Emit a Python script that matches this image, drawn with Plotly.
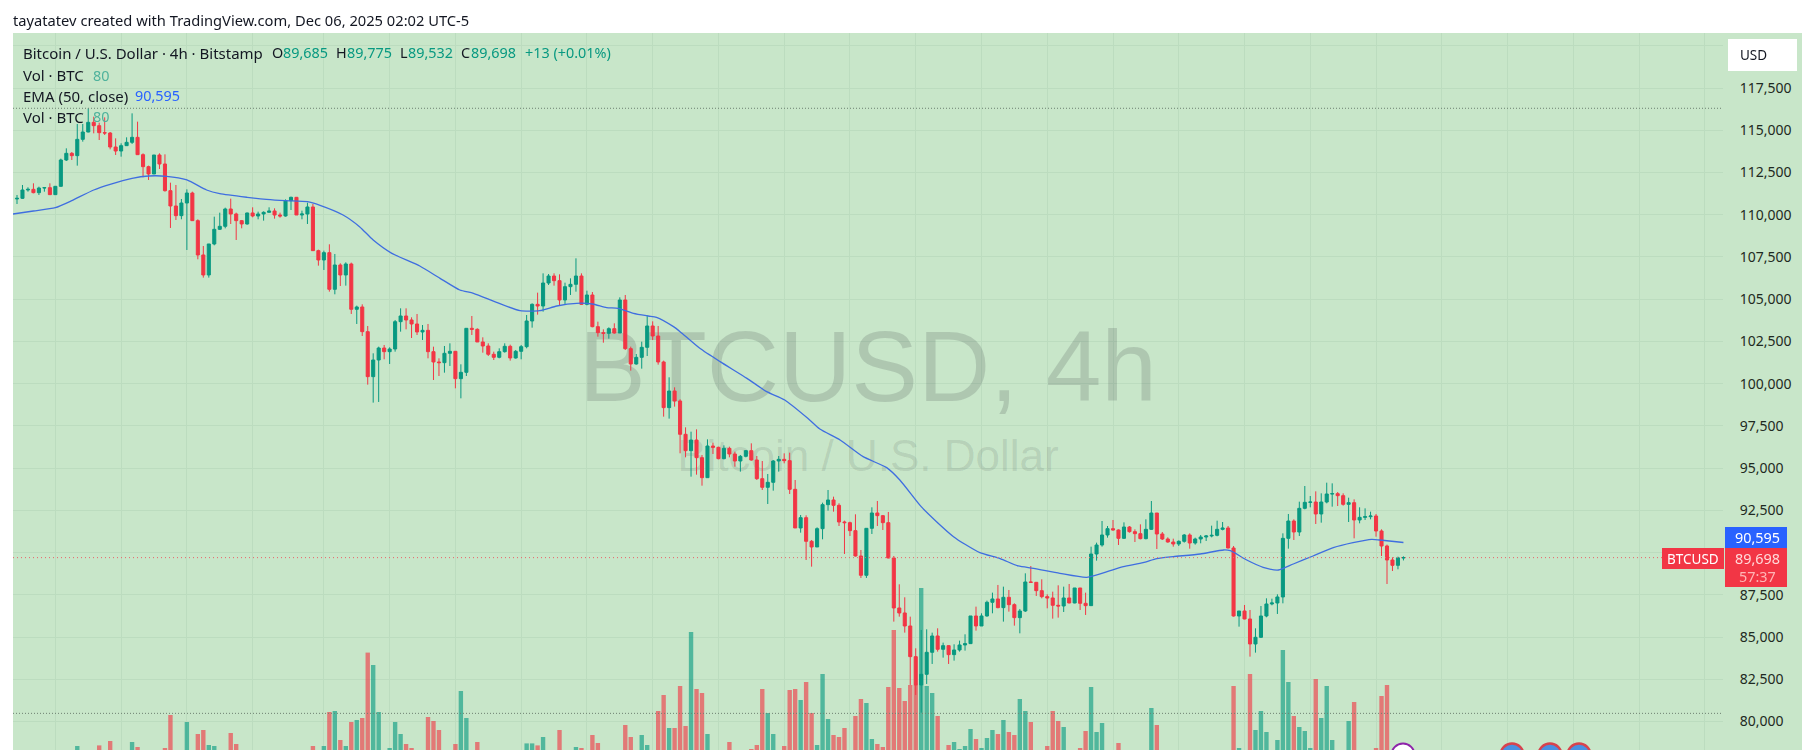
import plotly.graph_objects as go

FIRST_OPEN = 110930
CLOSE = [
110970,111463,111502,111305,111581,111601,111187,111680,113239,113633,
113495,114462,114896,115468,115271,114856,114837,114008,113771,114087,
114284,114580,113554,112844,112410,113535,113002,111423,110516,109944,
110693,111285,109648,107616,106432,108267,109135,109312,110338,110042,
109648,109450,110102,109924,110042,110141,110220,109983,109924,110832,
111029,109983,110042,110457,107872,107320,107754,105583,107024,106432,
107083,104400,104538,103076,100413,101399,102109,101892,102050,103668,
104004,103767,103530,103057,103155,101892,101281,101241,101794,101912,
100294,100669,103274,103214,102465,102228,101735,101557,101892,102208,
101518,101912,102188,103708,104694,104595,105957,106371,106095,104951,
105740,105878,106371,104694,105247,103372,103017,102978,103254,102997,
104951,102070,101162,101557,102149,103412,102820,101281,98578,99564,
98972,96999,96031,96662,95617,94433,96307,96228,95558,96169,
95834,95419,95696,96031,95479,94374,93861,94157,95419,95518,
95439,93742,91454,92065,90664,90329,91414,92835,93111,92795,
91809,91769,91296,89796,88652,91434,92342,92184,91769,89678,
86718,86423,85653,83838,82161,82792,84094,85061,84272,84489,
83956,84232,84528,84607,86245,85653,86245,87054,87251,86738,
87350,86915,86146,86540,88257,88237,87744,87389,87310,86876,
86836,87310,87014,87902,86994,86856,89914,90447,91039,91414,
91335,90841,91512,91236,91118,90822,91374,92341,91098,90802,
90624,90506,90664,91039,90565,90802,90920,90980,91019,91374,
91453,90269,86244,86540,86067,84587,84982,86244,86955,87014,
87369,90841,91867,91216,92617,92972,92990,92282,92992,93466,
93485,93367,92854,92953,91927,92084,92124,92163,91276,90388,
89559,89243,89685,89698]
HIGH = [
111167,111759,111621,111858,111660,111621,111858,111700,113318,113929,
113712,115369,115369,116297,115803,115448,115764,114896,114521,114225,
114580,116001,115508,113633,112903,113535,113633,113574,111897,111759,
110930,111502,111364,109727,108148,108267,109884,110121,110417,110950,
110121,109687,110121,110437,110180,110200,110437,110378,110121,110910,
111068,111049,110240,110713,110634,107931,107872,108247,107675,107122,
107181,107162,104617,104694,103412,101794,102188,102287,102149,103767,
104457,104457,103925,104122,103471,103530,102188,101498,102228,102386,
101932,101143,103274,104004,103274,102741,102386,101892,102090,102386,
102307,101991,102287,104063,104753,105385,106529,106490,106529,106470,
105977,106233,107417,106529,105503,105424,103668,103214,103333,103570,
105108,105247,102188,101754,102484,104043,103688,103412,101360,100373,
99781,99071,97412,97156,97294,95775,96702,96505,96268,96347,
96268,95972,95775,96070,96465,95715,95419,94650,95479,95715,
95873,95913,94295,92223,92203,90743,91493,92953,93703,93308,
92914,91888,91829,92263,90151,91434,92677,93052,92223,92401,
89796,88119,87350,86205,84331,85416,85456,85258,85515,84667,
84510,84568,84785,85160,86245,86797,86403,87153,87626,88080,
87981,87783,86994,86659,88770,89204,88257,88415,87527,87685,
88060,87981,88138,87902,87902,87625,90348,90585,91867,91571,
91927,91374,91788,91571,91374,91670,91966,93051,92341,91216,
90901,90822,90723,91098,91137,90881,91039,91039,91591,91887,
91808,91571,90388,86540,86895,86599,85514,86836,87290,87270,
87527,91137,92282,91966,93012,93939,93347,93623,93505,94136,
94097,93584,93505,93248,93150,92676,92617,92420,92282,91374,
90467,89717,89756,89775]
LOW = [
110634,110930,111364,111266,111167,111364,111167,111167,111660,113179,
113239,112903,114324,114876,114817,114422,114718,113870,113535,113436,
114067,114186,113535,112213,112055,112410,112706,111364,109214,109687,
109727,107912,109628,107359,106274,106274,108188,109095,109194,109450,
108503,109194,109411,109845,109727,109648,110121,109766,109825,109885,
110279,109983,109727,109450,107852,106984,106728,105445,105287,105781,
105800,104123,103531,102820,99939,98874,98913,101439,101162,101892,
103076,103214,102701,102879,102583,101498,100215,100452,100649,101044,
99722,99130,100452,102879,102465,101833,101636,101399,101498,101833,
101360,101478,101439,102090,103313,104082,104260,105838,105799,104615,
104714,105247,105444,104655,104635,103333,102780,102425,102662,102958,
103057,101991,100768,101123,100886,101636,102583,101123,98045,97927,
98637,95875,95636,94492,94610,93959,94413,95834,95518,95518,
95636,95084,94788,95636,95439,94295,93703,92874,93663,94788,
95281,93466,91454,91177,89560,89165,90822,90783,92480,92420,
91572,89915,90980,89757,88494,88494,91099,91572,91335,89658,
85910,86205,85258,82161,81569,80523,82220,83404,84134,83779,
83404,83601,84134,84193,84588,85377,85653,86205,86403,86699,
85910,86501,85672,85218,86481,88217,87428,87290,86698,86087,
86146,86481,86994,86994,86599,86304,86856,89520,90348,90881,
91295,90447,90802,91177,90624,90782,90782,91335,90210,90743,
90585,90348,90388,90585,90230,90467,90546,90684,90901,90960,
91315,90249,86205,85613,86047,83837,84074,84942,86166,86876,
86363,86994,90230,90743,90980,92558,92676,91690,91769,92913,
92716,92755,92775,91808,90841,91729,91927,91966,90940,89796,
88138,88908,89007,89532]

VOL_INDEX = [
11,15,17,21,22,27,28,31,33,34,35,36,39,40,54,56,57,58,59,60,61,62,63,64,65,66,68,69,70,71,72,
75,76,77,80,81,82,84,93,94,95,96,99,102,103,105,106,111,112,114,115,117,118,119,120,121,122,
123,124,125,126,130,134,135,136,137,138,140,141,142,143,144,145,146,147,148,149,150,151,153,
154,155,156,157,158,159,160,161,162,163,164,165,166,167,168,170,171,172,173,174,175,176,177,
178,179,180,181,182,183,184,185,188,189,190,191,194,195,196,197,198,201,207,208,222,223,225,
226,227,228,230,231,232,233,234,235,236,237,238,239,240,243,244,248,249,250]
VOLUME = [
20,23,45,40,15,10,175,140,80,100,25,20,85,30,20,20,190,195,50,20,140,150,160,487,425,190,10,140,80,30,10,
165,145,100,30,295,160,40,33,33,23,65,100,15,10,75,35,125,65,75,25,195,275,110,110,320,120,
590,305,285,80,40,5,25,305,185,80,20,300,305,250,340,185,25,380,155,75,65,110,170,
255,235,55,30,15,315,600,310,245,325,325,810,320,285,170,25,40,5,20,105,55,10,60,
100,80,150,90,75,255,195,140,20,195,145,115,10,95,315,90,135,35,210,125,320,10,380,
100,195,90,50,500,340,170,115,95,10,355,160,320,50,145,240,10,270,325]

EMA_INDEX = [-0.73,3,7,10,14,17,21,24,27.3,31,34.6,37,42,45.5,49,53,55.3,59.5,62.5,65,68.4,73.5,77.2,80.8,
83.3,87.5,91.8,95.4,98.5,102.1,105,107.6,109.7,112.5,115.2,116.7,119.8,121,124.6,128.3,133.2,136.8,140.1,
144.3,146.5,150.2,154.4,158.7,161.1,165,167.8,170.9,173,175.7,179.4,182.7,185.5,190.3,195.2,199.5,201.9,
205.5,208,211,215.9,220.2,221.4,224.4,227.4,230.2,232.9,236.5,240.2,243.8,247.2,248.7,253]
EMA = [110042,110220,110417,110832,111463,111798,112153,112292,112272,112055,111463,111246,111029,110910,
110832,110772,110555,109983,109293,108502,107713,106963,106233,105543,105345,104812,104319,104319,104595,
104753,104714,104497,104457,104161,104004,103925,103372,103076,102089,101300,100313,99524,99030,97945,
97313,96662,95676,95025,94295,92716,91828,90941,90487,89994,89638,89204,89066,88770,88533,88928,89164,
89401,89638,89756,89914,90151,90111,89559,89125,88967,89322,89796,90289,90585,90782,90743,90595]

PRICE_TICKS = list(range(80000, 120001, 2500))
HIDDEN_TICKS = {90000, 120000}
PRICE_LABELS = ["" if p in HIDDEN_TICKS else f"{p:,}" for p in PRICE_TICKS]
TIME_GRID = [7, 19, 31, 43] + list(range(56, 309, 12))
LAST_PRICE, EMA_LAST, HIGH_LINE, LOW_LINE = 89698, 90595, 116300, 80480

W, H = 1814, 750
L, R, T = 13, 1723, 33
GREEN, RED, BLUE = "#089981", "#F23645", "#2962FF"
BG, GRID = "#c8e6c9", "#bcdcbf"
FONT = "Noto Sans"

def fx(px): return (px - L) / (R - L)
def fy(py): return (H - py) / (H - T)
def ix(px): return (px - 17) / 5.48
VOL_PER_PX = 5
def vy(py): return (H - py) * VOL_PER_PX

OPEN = [FIRST_OPEN] + CLOSE[:-1]
vol_colors = [GREEN if CLOSE[i] >= OPEN[i] else RED for i in VOL_INDEX]

fig = go.Figure()
fig.add_trace(go.Bar(x=VOL_INDEX, y=VOLUME, yaxis="y", marker=dict(color=vol_colors, line_width=0),
                     opacity=0.62, width=0.8, hoverinfo="skip", showlegend=False))
fig.add_trace(go.Scatter(x=[ix(868)], y=[vy(376)], mode="text", text=["BTCUSD, 4h"], yaxis="y",
                         textfont=dict(family="Liberation Sans", size=100, color="rgba(19,23,34,0.145)"),
                         hoverinfo="skip", showlegend=False, cliponaxis=False))
fig.add_trace(go.Scatter(x=[ix(868)], y=[vy(460)], mode="text", text=["Bitcoin / U.S. Dollar"], yaxis="y",
                         textfont=dict(family="Liberation Sans", size=44, color="rgba(19,23,34,0.11)"),
                         hoverinfo="skip", showlegend=False, cliponaxis=False))
fig.add_trace(go.Candlestick(x=list(range(len(CLOSE))), open=OPEN, high=HIGH, low=LOW, close=CLOSE, yaxis="y2",
                             increasing=dict(line=dict(color=GREEN, width=1), fillcolor=GREEN),
                             decreasing=dict(line=dict(color=RED, width=1), fillcolor=RED),
                             whiskerwidth=0, hoverinfo="skip", showlegend=False))
fig.add_trace(go.Scatter(x=EMA_INDEX, y=EMA, yaxis="y2", mode="lines",
                         line=dict(color="#3f6ee0", width=1.3, shape="spline", smoothing=0.6),
                         hoverinfo="skip", showlegend=False))

anns = []
def text(px, py, s, color="#131722", size=14.4, anchor="left", family=FONT):
    anns.append(dict(xref="paper", yref="paper", x=fx(px), y=fy(py), text=s, showarrow=False, xanchor=anchor,
                     yanchor="middle", font=dict(family=family, size=size, color=color), borderpad=0, borderwidth=0))

text(13, 20, "tayatatev created with TradingView.com, Dec 06, 2025 02:02 UTC-5", size=14.7)
text(23, 53, "Bitcoin / U.S. Dollar · 4h · Bitstamp", size=15)
for lab, lx, val, vx in [("O", 272, "89,685", 283), ("H", 336, "89,775", 347), ("L", 400, "89,532", 408), ("C", 461, "89,698", 471)]:
    text(lx, 53, lab)
    text(vx, 53, val, color=GREEN)
text(525, 53, "+13 (+0.01%)", color=GREEN)
text(23, 75, "Vol · BTC", size=15)
text(93, 75, "80", color="#4fb29c")
text(23, 96, "EMA (50, close)", size=15)
text(135, 96, "90,595", color=BLUE)
text(23, 117, "Vol · BTC", size=15)
text(93, 117, "80", color="#4fb29c")

text(1740, 55, "USD", size=13.5)
text(1758, 537.5, f"{EMA_LAST:,}", color="white", size=14.4, anchor="center")
text(1758, 558, f"{LAST_PRICE:,}", color="#ffd9d9", size=14.4, anchor="center")
text(1758, 576, "57:37", color="#ffb5b5", size=14.4, anchor="center")
text(1693, 558.5, "BTCUSD", color="white", size=13.5, anchor="center")

def rect(x0, y0, x1, y1, color, layer="above"):
    return dict(type="rect", xref="paper", yref="paper", x0=fx(x0), x1=fx(x1), y0=fy(y0), y1=fy(y1),
                fillcolor=color, line_width=0, layer=layer)
def circle(cx, cy, r, fill, line, lw):
    return dict(type="circle", xref="paper", yref="paper", x0=fx(cx - r), x1=fx(cx + r), y0=fy(cy - r), y1=fy(cy + r),
                fillcolor=fill, line=dict(color=line, width=lw), layer="above")
def hline(price, x1, color, dash):
    return dict(type="line", xref="paper", yref="y2", x0=0, x1=fx(x1), y0=price, y1=price,
                line=dict(color=color, width=1, dash=dash), layer="above")

shapes = [
    rect(R, T, 1802, H, BG, "below"),
    hline(HIGH_LINE, R, "#6d8071", "1px,2px"),
    hline(LOW_LINE, R, "#6d8071", "1px,2px"),
    hline(LAST_PRICE, 1662, "#e8636b", "1px,3px"),
    rect(1728, 39, 1797, 71, "white"),
    rect(1725, 527, 1787, 548, "#2962FF"),
    rect(1725, 548, 1787, 587, "#F23645"),
    rect(1662, 548, 1724, 569, "#F23645"),
    circle(1403, 755, 11.5, "white", "#8e24aa", 2),
    circle(1512, 755, 11.5, "#4a90e2", "#d8434d", 2.5),
    circle(1550, 755, 11.5, "#4a90e2", "#d8434d", 2.5),
    circle(1579, 755, 11.5, "#4a90e2", "#d8434d", 2.5),
]

fig.update_layout(
    width=W, height=H, autosize=False, margin=dict(l=L, r=W - R, t=T, b=0, pad=0),
    paper_bgcolor="white", plot_bgcolor=BG, showlegend=False, boxgap=0.2, boxmode="overlay", barmode="overlay",
    font=dict(family=FONT, color="#131722"), annotations=anns, shapes=shapes,
    xaxis=dict(range=[ix(L), ix(R)], tickmode="array", tickvals=TIME_GRID, showticklabels=False, ticks="",
               showgrid=True, gridcolor=GRID, gridwidth=1, zeroline=False, showline=False, rangeslider=dict(visible=False)),
    yaxis=dict(range=[0, (H - T) * VOL_PER_PX], visible=False, showgrid=False, zeroline=False),
    yaxis2=dict(overlaying="y", side="right", range=[85000 + (637 - H) * 59.2, 85000 + (637 - T) * 59.2],
                tickmode="array", tickvals=PRICE_TICKS, ticktext=PRICE_LABELS, ticks="outside", ticklen=13,
                tickcolor="rgba(0,0,0,0)", tickfont=dict(family=FONT, size=14, color="#1e2a22"),
                showgrid=True, gridcolor=GRID, gridwidth=1, zeroline=False, showline=False),
)
fig.write_html("out.html", config=dict(displayModeBar=False),
               post_script="document.body.style.margin='0';document.body.style.overflow='hidden';")
